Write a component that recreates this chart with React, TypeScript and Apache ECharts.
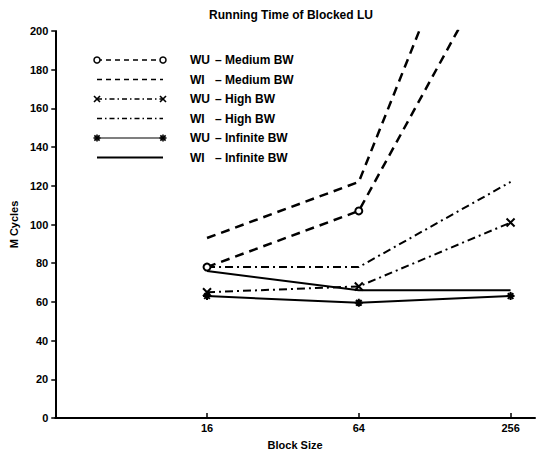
import React, { useEffect, useRef } from "react";
import * as echarts from "echarts";

const blockSizes = [16, 64, 256];
const xMin = 4;
const xMax = 320;
const yTicks = [0, 20, 40, 60, 80, 100, 120, 140, 160, 180, 200];

const wuMedium = [78, 107, 250];
const wiMedium = [93, 122, 318];
const wuHigh = [65, 68, 101];
const wiHigh = [78, 78, 122];
const wuInfinite = [63, 59.5, 63];
const wiInfinite = [76, 66, 66];

const legendNames = ["WU", "WI", "WU", "WI", "WU", "WI"];
const legendSuffix = ["– Medium BW", "– Medium BW", "– High BW", "– High BW", "– Infinite BW", "– Infinite BW"];

const FONT = "'Liberation Sans', Arial, Helvetica, sans-serif";
const X_SYMBOL = "path://M0,0L10,10M10,0L0,10";
const STAR_SYMBOL = "path://M5,0L5,10M0,5L10,5M1.5,1.5L8.5,8.5M8.5,1.5L1.5,8.5";

const DASH = [9, 6];
const DASHDOT = [8, 4, 2, 4];

function toPoints(vals: number[]) {
  return blockSizes.map((b, i) => [Math.log2(b), vals[i]]);
}

function xMark(cx: number, cy: number, r: number) {
  return [
    { type: "line", shape: { x1: cx - r, y1: cy - r, x2: cx + r, y2: cy + r }, style: { stroke: "#000", lineWidth: 1.6 } },
    { type: "line", shape: { x1: cx - r, y1: cy + r, x2: cx + r, y2: cy - r }, style: { stroke: "#000", lineWidth: 1.6 } },
  ];
}
function starMark(cx: number, cy: number, r: number) {
  return [
    ...xMark(cx, cy, r * 0.75),
    { type: "line", shape: { x1: cx - r, y1: cy, x2: cx + r, y2: cy }, style: { stroke: "#000", lineWidth: 1.6 } },
    { type: "line", shape: { x1: cx, y1: cy - r, x2: cx, y2: cy + r }, style: { stroke: "#000", lineWidth: 1.6 } },
  ];
}

function buildLegend() {
  const rowsY = [60, 79.5, 99, 118.5, 138, 157.5];
  const x1 = 97;
  const x2 = 163;
  const els: any[] = [];
  rowsY.forEach((y, i) => {
    const dash = i < 2 ? [5, 4] : i < 4 ? [5, 3, 1.5, 3] : null;
    const lw = i < 4 ? 1.6 : i === 5 ? 2 : 1.2;
    els.push({
      type: "line",
      shape: { x1, y1: y, x2, y2: y },
      style: { stroke: "#000", lineWidth: lw, lineDash: dash || undefined },
    });
    if (i === 0) {
      els.push({ type: "circle", shape: { cx: x1, cy: y, r: 3 }, style: { stroke: "#000", fill: "#fff", lineWidth: 1.5 } });
      els.push({ type: "circle", shape: { cx: x2, cy: y, r: 3 }, style: { stroke: "#000", fill: "#fff", lineWidth: 1.5 } });
    } else if (i === 2) {
      els.push(...xMark(x1, y, 3), ...xMark(x2, y, 3));
    } else if (i === 4) {
      els.push(...starMark(x1, y, 3.5), ...starMark(x2, y, 3.5));
    }
    els.push({
      type: "text",
      x: 190,
      y,
      style: { text: legendNames[i], fill: "#000", font: `bold 12px ${FONT}`, verticalAlign: "middle", align: "left" },
    });
    els.push({
      type: "text",
      x: 215,
      y,
      style: { text: legendSuffix[i], fill: "#000", font: `bold 12px ${FONT}`, verticalAlign: "middle", align: "left" },
    });
  });
  return els;
}

export default function App() {
  const ref = useRef<HTMLDivElement>(null);
  useEffect(() => {
    if (!ref.current) return;
    const chart = echarts.init(ref.current, null, { renderer: "svg" });
    const labelStyle = { color: "#000", fontWeight: "bold", fontSize: 11, fontFamily: FONT };
    chart.setOption({
      animation: false,
      backgroundColor: "#fff",
      textStyle: { fontFamily: FONT },
      title: {
        text: "Running Time of Blocked LU",
        left: 291,
        top: 9,
        padding: 0,
        textAlign: "center",
        textStyle: { fontSize: 12, fontWeight: "bold", color: "#000", fontFamily: FONT },
      },
      grid: { left: 54, top: 31, right: 1, bottom: 34 },
      xAxis: {
        type: "value",
        min: Math.log2(xMin),
        max: Math.log2(xMax),
        interval: 2,
        name: "Block Size",
        nameLocation: "middle",
        nameGap: 21,
        nameTextStyle: labelStyle,
        axisLine: { lineStyle: { color: "#000", width: 2 } },
        axisTick: { inside: true, length: 5, lineStyle: { color: "#000", width: 1.5 } },
        axisLabel: {
          ...labelStyle,
          margin: 4,
          showMinLabel: false,
          showMaxLabel: false,
          formatter: (v: number) => String(Math.round(Math.pow(2, v))),
        },
        splitLine: { show: false },
      },
      yAxis: {
        type: "value",
        min: yTicks[0],
        max: yTicks[yTicks.length - 1],
        interval: yTicks[1] - yTicks[0],
        name: "M Cycles",
        nameLocation: "middle",
        nameGap: 33,
        nameTextStyle: labelStyle,
        axisLine: { lineStyle: { color: "#000", width: 2 } },
        axisTick: { inside: false, length: 4, lineStyle: { color: "#000", width: 1.5 } },
        axisLabel: { ...labelStyle, margin: 7 },
        splitLine: { show: false },
      },
      series: [
        {
          name: "WU - Medium BW",
          type: "line",
          data: toPoints(wuMedium),
          symbol: "emptyCircle",
          symbolSize: 7,
          clip: true,
          lineStyle: { color: "#000", width: 2.5, type: DASH },
          itemStyle: { color: "#000", borderColor: "#000", borderWidth: 2.5 },
        },
        {
          name: "WI - Medium BW",
          type: "line",
          data: toPoints(wiMedium),
          symbol: "none",
          clip: true,
          lineStyle: { color: "#000", width: 2.5, type: DASH },
        },
        {
          name: "WU - High BW",
          type: "line",
          data: toPoints(wuHigh),
          symbol: X_SYMBOL,
          symbolSize: 8,
          clip: true,
          lineStyle: { color: "#000", width: 2, type: DASHDOT },
          itemStyle: { color: "none", borderColor: "#000", borderWidth: 2 },
        },
        {
          name: "WI - High BW",
          type: "line",
          data: toPoints(wiHigh),
          symbol: "none",
          clip: true,
          lineStyle: { color: "#000", width: 2, type: DASHDOT },
        },
        {
          name: "WU - Infinite BW",
          type: "line",
          data: toPoints(wuInfinite),
          symbol: STAR_SYMBOL,
          symbolSize: 8,
          clip: true,
          lineStyle: { color: "#000", width: 2 },
          itemStyle: { color: "none", borderColor: "#000", borderWidth: 2 },
        },
        {
          name: "WI - Infinite BW",
          type: "line",
          data: toPoints(wiInfinite),
          symbol: "none",
          clip: true,
          lineStyle: { color: "#000", width: 2 },
        },
      ],
      graphic: buildLegend(),
    });
    return () => chart.dispose();
  }, []);
  return (
    <div style={{ position: "fixed", left: 0, top: 0, width: 536, height: 455, overflow: "hidden", background: "#fff" }}>
      <div ref={ref} style={{ width: 536, height: 455 }} />
    </div>
  );
}
